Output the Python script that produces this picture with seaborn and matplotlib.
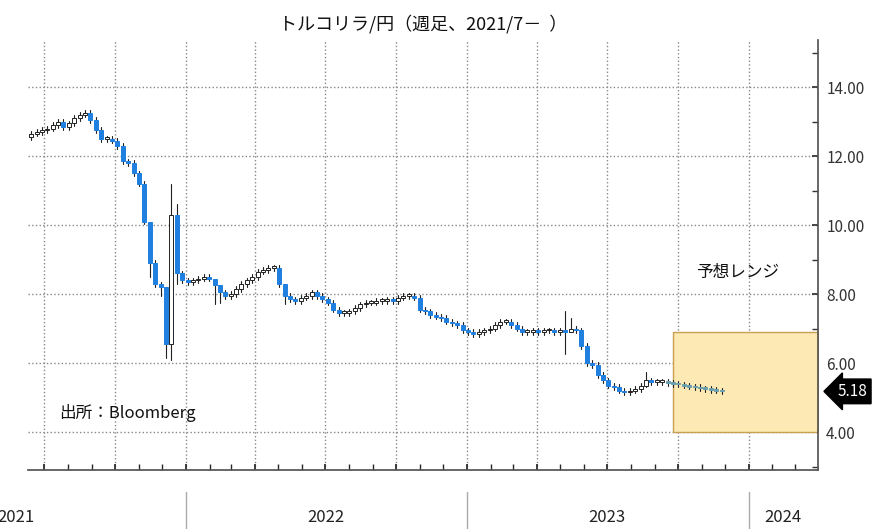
import matplotlib.pyplot as plt
import matplotlib.dates as mdates
import seaborn as sns
import pandas as pd
import numpy as np

sns.set_theme(style="white", font="Noto Sans CJK JP")

# weekly closes, TRY/JPY
closes = [12.65, 12.7, 12.75, 12.8, 12.9, 13.0, 12.85, 12.95, 13.1, 13.2,
          13.25, 13.05, 12.75, 12.5, 12.5, 12.45, 12.3, 11.85, 11.8, 11.5,
          11.2, 10.1, 8.9, 8.3, 8.2, 6.55, 10.3, 8.6, 8.4, 8.35,
          8.4, 8.45, 8.5, 8.45, 8.25, 8.05, 7.95, 8.0, 8.15, 8.3,
          8.4, 8.5, 8.65, 8.7, 8.75, 8.75, 8.3, 7.95, 7.85, 7.8,
          7.9, 7.95, 8.05, 7.95, 7.85, 7.75, 7.55, 7.45, 7.45, 7.5,
          7.6, 7.7, 7.75, 7.75, 7.8, 7.8, 7.85, 7.8, 7.9, 7.95,
          7.95, 7.9, 7.55, 7.5, 7.4, 7.35, 7.3, 7.2, 7.15, 7.1,
          6.95, 6.9, 6.85, 6.9, 6.95, 7.0, 7.1, 7.2, 7.2, 7.1,
          7.0, 6.9, 6.9, 6.95, 6.9, 6.95, 6.95, 6.9, 6.95, 6.9,
          7.0, 6.95, 6.5, 6.0, 5.95, 5.65, 5.5, 5.35, 5.3, 5.2,
          5.15, 5.2, 5.25, 5.35, 5.5, 5.45, 5.45, 5.45, 5.42, 5.4,
          5.38, 5.35, 5.32, 5.3, 5.27, 5.25, 5.22, 5.2, 5.18]
first_open = 12.55
# notable wicks: index -> (high, low)
wicks = {22: (10.1, 8.5), 24: (8.35, 7.95), 25: (8.2, 6.15), 26: (11.2, 6.1),
         27: (10.6, 8.3), 34: (8.45, 7.7), 35: (8.25, 7.75), 47: (8.3, 7.7),
         99: (7.5, 6.25), 100: (7.3, 6.9), 114: (5.75, 5.3)}
forecast_from = 118
last_price = 5.18
range_lo, range_hi = 4.0, 6.9
range_start, range_end = "2023-09-25", "2024-03-31"

dates = pd.date_range("2021-06-14", periods=len(closes), freq="7D")
opens = [first_open] + closes[:-1]

fig = plt.figure(figsize=(8.9, 5.29), dpi=100)
ax = fig.add_axes([0.0315, 0.1115, 0.8875, 0.8125])

blue = "#1f80e0"
teal = "#6a9fb0"
for i, (d, o, c) in enumerate(zip(dates, opens, closes)):
    hi, lo = wicks.get(i, (max(o, c) + 0.08, min(o, c) - 0.08))
    x = mdates.date2num(d)
    ax.plot([x, x], [lo, hi], color="#222222", lw=0.8, zorder=2)
    if i >= forecast_from:
        fc, ec = teal, teal
    elif c < o:
        fc, ec = blue, blue
    else:
        fc, ec = "white", "#222222"
    ax.bar(x, max(abs(c - o), 0.05), bottom=min(o, c), width=5.2,
           color=fc, edgecolor=ec, linewidth=0.7, zorder=3)

ax.fill_between(pd.to_datetime([range_start, range_end]), range_lo, range_hi,
                color="#fce9b4", edgecolor="#c8a050", lw=1, zorder=1)

ax.set_xlim(mdates.date2num(pd.Timestamp("2021-06-10")),
            mdates.date2num(pd.Timestamp("2024-03-31")))
ax.set_ylim(2.9, 15.36)
ax.yaxis.tick_right()
ax.set_yticks([4, 6, 8, 10, 12, 14])
ax.set_yticks([3, 5, 7, 9, 11, 13, 15], minor=True)
ax.set_yticklabels([f"{v:.2f}" for v in [4, 6, 8, 10, 12, 14]], fontsize=11)
ax.tick_params(axis="y", which="both", right=True, direction="in", length=4,
               pad=6, colors="#333333")
ax.xaxis.set_major_locator(mdates.MonthLocator(bymonth=[1, 4, 7, 10]))
ax.xaxis.set_minor_locator(mdates.MonthLocator())
ax.xaxis.set_major_formatter(plt.NullFormatter())
ax.tick_params(axis="x", which="both", bottom=True, direction="in", length=4)
ax.grid(True, which="major", ls=":", color="#888888", lw=1)
for s in ["top", "left"]:
    ax.spines[s].set_visible(False)
for s in ["right", "bottom"]:
    ax.spines[s].set_color("#555555")

# year labels and separators
year_label_pos = {2021: "2021-05-25", 2022: "2022-07-01", 2023: "2023-07-01", 2024: "2024-02-15"}
for yr, pos in year_label_pos.items():
    ax.text(pd.Timestamp(pos), -0.11, str(yr), transform=ax.get_xaxis_transform(),
            ha="center", va="center", fontsize=12, color="#222222", clip_on=False)
    if yr > 2021:
        ax.plot([pd.Timestamp(f"{yr}-01-01")] * 2, [-0.05, -0.15], color="#aaaaaa",
                lw=1, transform=ax.get_xaxis_transform(), clip_on=False)

ax.annotate(f"{last_price:.2f}", xy=(1.0, last_price), xycoords=("axes fraction", "data"),
            xytext=(14, 0), textcoords="offset points", va="center", ha="left",
            color="white", fontsize=11,
            bbox=dict(boxstyle="larrow,pad=0.25", fc="black", ec="black"))

ax.text(pd.Timestamp("2021-07-20"), 4.4, "出所：Bloomberg", fontsize=12, color="#111111")
ax.text(pd.Timestamp("2023-10-25"), 8.5, "予想レンジ", fontsize=12, color="#111111")
fig.text(0.475, 0.955, "トルコリラ/円（週足、2021/7－  ）", ha="center", va="center",
         fontsize=13, color="#111111")

fig.savefig("out.png", dpi=100)
